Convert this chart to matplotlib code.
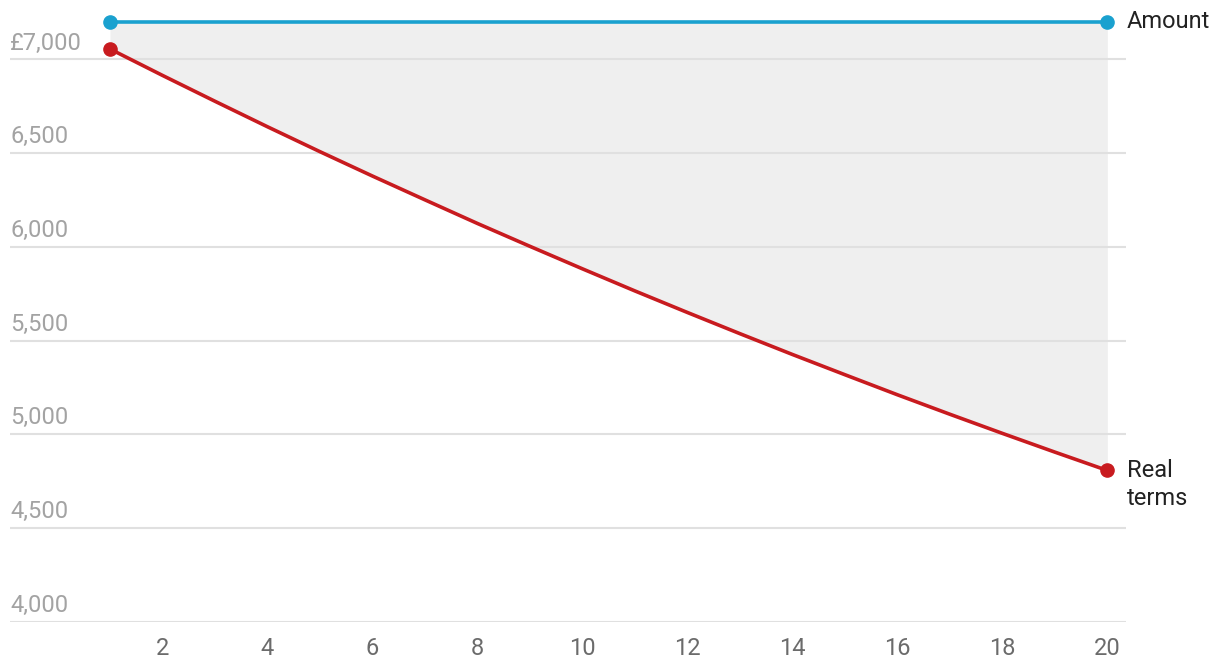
import matplotlib
matplotlib.use("Agg")
import matplotlib.pyplot as plt

plt.rcParams['font.family'] = ['Roboto', 'DejaVu Sans']

# Data
years = list(range(1, 21))
amount = [7200] * 20
real_terms = [7056, 6915, 6777, 6641, 6508, 6378, 6251, 6125, 6003, 5883,
              5765, 5650, 5537, 5426, 5318, 5211, 5107, 5005, 4905, 4807]
y_ticks = [4000, 4500, 5000, 5500, 6000, 6500, 7000]
y_labels = ['4,000', '4,500', '5,000', '5,500', '6,000', '6,500', '£7,000']
x_ticks = [2, 4, 6, 8, 10, 12, 14, 16, 18, 20]

blue = '#1aa1cf'
red = '#c81b1f'

fig = plt.figure(figsize=(12.2, 6.72), dpi=100)
ax = fig.add_axes([10 / 1220, 1 - 621.7 / 672, 1116 / 1220, 611.7 / 672])
ax.set_xlim(-0.905, 20.356)
ax.set_ylim(4000, 7264)

# shaded gap between the two series
ax.fill_between(years, real_terms, amount, color='#efefef', lw=0, zorder=0)

# gridlines + y labels inside the plot
for v, lab in zip(y_ticks, y_labels):
    ax.axhline(v, color='#e0e0e0', lw=1.5, zorder=1)
    ax.annotate(lab, xy=(0, v), xycoords=('axes fraction', 'data'),
                xytext=(0, 3.5), textcoords='offset points',
                ha='left', va='bottom', fontsize=17, color='#a3a3a3')

ax.plot(years, amount, color=blue, lw=2.6, zorder=3, solid_capstyle='butt')
ax.plot(years, real_terms, color=red, lw=2.6, zorder=3, solid_capstyle='butt')
ax.plot([years[0], years[-1]], [amount[0], amount[-1]], 'o', color=blue,
        ms=9.5, zorder=4, clip_on=False)
ax.plot([years[0], years[-1]], [real_terms[0], real_terms[-1]], 'o', color=red,
        ms=9.5, zorder=4, clip_on=False)

ax.annotate('Amount', xy=(years[-1], amount[-1]), xytext=(14, 0),
            textcoords='offset points', ha='left', va='center',
            fontsize=17, color='#222222', annotation_clip=False)
ax.annotate('Real\nterms', xy=(years[-1], real_terms[-1]), xytext=(14, 8),
            textcoords='offset points', ha='left', va='top', linespacing=1.25,
            fontsize=17, color='#222222', annotation_clip=False)

ax.set_xticks(x_ticks)
ax.set_xticklabels([str(x) for x in x_ticks])
ax.set_yticks([])
ax.tick_params(axis='x', length=0, pad=11, labelsize=17, labelcolor='#6b6b6b')
for s in ax.spines.values():
    s.set_visible(False)

fig.savefig('out.png', dpi=100)
